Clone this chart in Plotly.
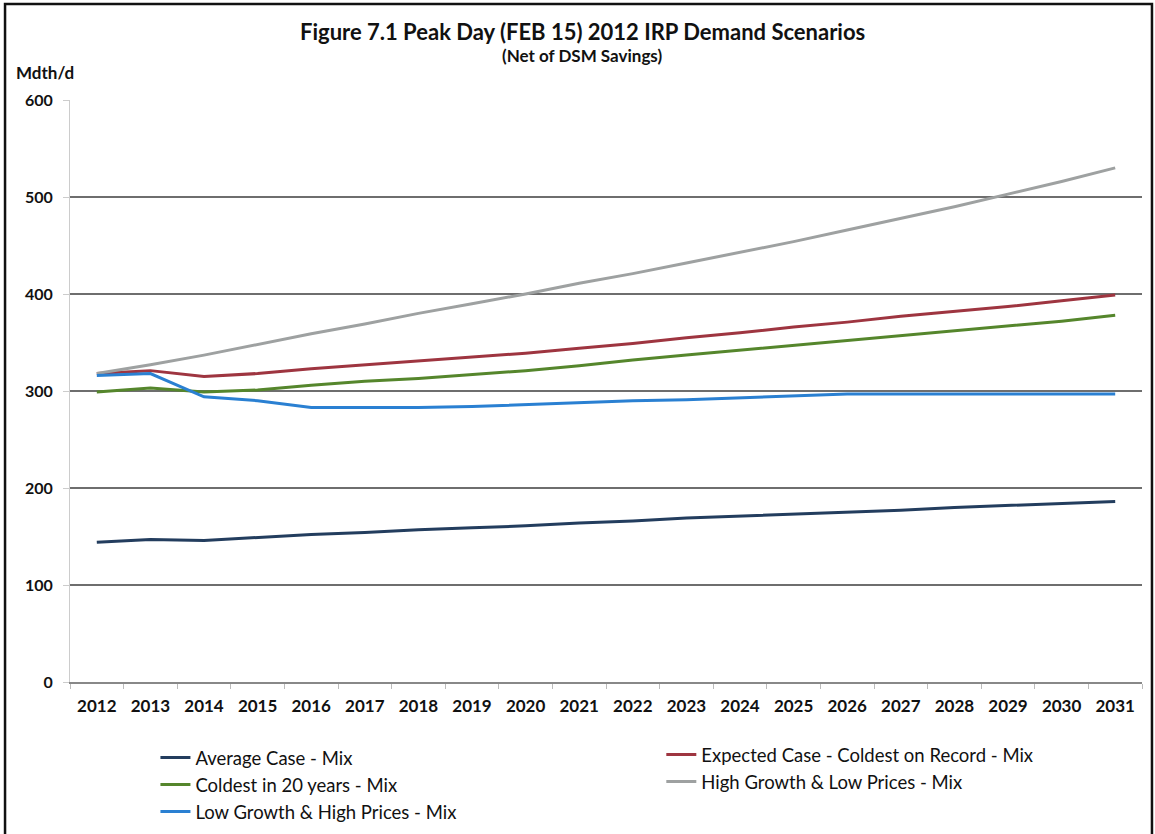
import plotly.graph_objects as go

years = [str(y) for y in range(2012, 2032)]
average_case = [144, 147, 146, 149, 152, 154, 157, 159, 161, 164, 166, 169, 171, 173, 175, 177, 180, 182, 184, 186]
expected_case = [318, 321, 315, 318, 323, 327, 331, 335, 339, 344, 349, 355, 360, 366, 371, 377, 382, 387, 393, 399]
coldest_20 = [299, 303, 299, 301, 306, 310, 313, 317, 321, 326, 332, 337, 342, 347, 352, 357, 362, 367, 372, 378]
high_growth = [318, 327, 337, 348, 359, 369, 380, 390, 400, 411, 421, 432, 443, 454, 466, 478, 490, 503, 516, 530]
low_growth = [316, 318, 294, 290, 283, 283, 283, 284, 286, 288, 290, 291, 293, 295, 297, 297, 297, 297, 297, 297]

series = [
    ("Average Case - Mix", average_case, "#233d5e", "legend"),
    ("Expected Case - Coldest on Record - Mix", expected_case, "#9e3540", "legend2"),
    ("Coldest in 20 years - Mix", coldest_20, "#55862c", "legend"),
    ("High Growth & Low Prices - Mix", high_growth, "#9ea1a1", "legend2"),
    ("Low Growth & High Prices - Mix", low_growth, "#2a80d2", "legend"),
]

fig = go.Figure()
for name, vals, col, leg in series:
    fig.add_trace(go.Scatter(x=years, y=vals, name=name, mode="lines", legend=leg,
                             line=dict(color=col, width=3)))

FONT = "Lato"
legfont = dict(family=FONT, size=18.5, color="#111")
fig.update_layout(
    width=1155, height=834,
    paper_bgcolor="white", plot_bgcolor="white",
    margin=dict(l=70, r=13, t=100, b=152),
    font=dict(family=FONT, color="#111", size=15),
    showlegend=True,
    legend=dict(orientation="v", x=0.0797, y=0.114, yref="container", xanchor="left", yanchor="top",
                font=legfont, tracegroupgap=0, itemwidth=30, bgcolor="rgba(0,0,0,0)"),
    legend2=dict(orientation="v", x=0.5516, y=0.1175, yref="container", xanchor="left", yanchor="top",
                 font=legfont, tracegroupgap=0, itemwidth=30, bgcolor="rgba(0,0,0,0)"),
    annotations=[
        dict(text="<b>Figure 7.1 Peak Day (FEB 15) 2012 IRP Demand Scenarios</b>",
             xref="paper", yref="paper", x=0.478, y=1.091, xanchor="center", yanchor="bottom",
             showarrow=False, font=dict(family=FONT, size=22, color="#111")),
        dict(text="<b>(Net of DSM Savings)</b>",
             xref="paper", yref="paper", x=0.478, y=1.055, xanchor="center", yanchor="bottom",
             showarrow=False, font=dict(family=FONT, size=17, color="#111")),
        dict(text="<b>Mdth/d</b>",
             xref="paper", yref="paper", x=-0.052, y=1.025, xanchor="left", yanchor="bottom",
             showarrow=False, font=dict(family=FONT, size=17, color="#111")),
    ],
    shapes=[
        dict(type="rect", xref="paper", yref="paper", x0=-0.0606, x1=1.0093, y0=-0.3, y1=1.165,
             line=dict(color="#111", width=2.5), fillcolor="rgba(0,0,0,0)", layer="below"),
    ],
)
fig.update_xaxes(type="category", range=[-0.5, 19.5], showgrid=False, showline=True,
                 linecolor="#888", linewidth=1.5,
                 ticks="outside", ticklen=5, tickcolor="#bbb", tickson="boundaries",
                 ticklabelstandoff=8,
                 tickfont=dict(family=FONT, size=17, color="#111"), tickprefix="<b>", ticksuffix="</b>")
fig.update_yaxes(range=[0, 600], dtick=100, showgrid=True, gridcolor="#6e6e6e", gridwidth=1.5,
                 zeroline=True, zerolinecolor="#888", zerolinewidth=1.5,
                 showline=True, linecolor="#ccc", linewidth=1, ticks="outside", ticklen=6, tickcolor="#ccc",
                 ticklabelstandoff=7,
                 tickfont=dict(family=FONT, size=16, color="#111"), tickprefix="<b>", ticksuffix="</b>")

fig.write_html("out.html", config={"displayModeBar": False},
               post_script="document.body.style.margin='0';")
